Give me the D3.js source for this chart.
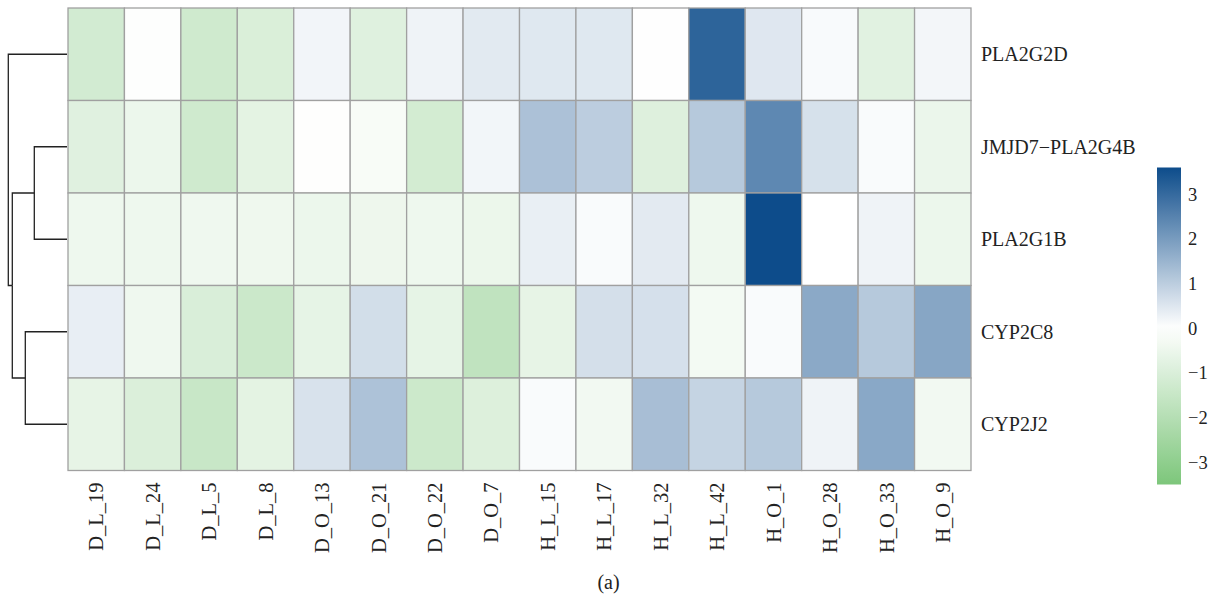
<!DOCTYPE html>
<html>
<head>
<meta charset="utf-8">
<script src="https://cdn.jsdelivr.net/npm/d3@7"></script>
<style>
  html, body { margin: 0; padding: 0; background: #fff; }
  svg { display: block; }
  text { font-family: "Liberation Serif", "DejaVu Serif", serif; fill: #222; }
</style>
</head>
<body>
<svg id="chart" width="1220" height="594"></svg>
<script>
// ---------- data ----------
const columns = ["D_L_19","D_L_24","D_L_5","D_L_8","D_O_13","D_O_21","D_O_22","D_O_7",
                 "H_L_15","H_L_17","H_L_32","H_L_42","H_O_1","H_O_28","H_O_33","H_O_9"];
const rows = ["PLA2G2D","JMJD7\u2212PLA2G4B","PLA2G1B","CYP2C8","CYP2J2"];

const valsPLA2G2D   = [-1.2,-0.05,-1.3,-1.0, 0.2,-0.86, 0.24, 0.43, 0.47, 0.47, 0.02, 3.12, 0.48, 0.1,-0.8, 0.18];
const valsJMJD7     = [-0.83,-0.51,-1.3,-0.73,-0.04,-0.2,-1.18, 0.19, 1.24, 1.0,-0.9, 1.08, 2.39, 0.61, 0.09,-0.54];
const valsPLA2G1B   = [-0.45,-0.45,-0.43,-0.44,-0.5,-0.47,-0.45,-0.52, 0.33, 0.09, 0.42,-0.46, 3.6, 0.0, 0.24,-0.5];
const valsCYP2C8    = [ 0.34,-0.43,-1.02,-1.4,-0.67, 0.67,-0.67,-1.7,-0.65, 0.64, 0.63,-0.32, 0.09, 1.73, 1.08, 1.79];
const valsCYP2J2    = [-0.65,-0.97,-1.48,-0.73, 0.58, 1.22,-1.37,-0.92, 0.09,-0.35, 1.3, 0.87, 1.08, 0.24, 1.75,-0.35];
const matrix = [valsPLA2G2D, valsJMJD7, valsPLA2G1B, valsCYP2C8, valsCYP2J2];

// row dendrogram: merge heights
const dendro = { h: 5.87, children: [
  { leaf: 0 },
  { h: 5.47, children: [
      { h: 3.27, children: [ { leaf: 1 }, { leaf: 2 } ] },
      { h: 4.17, children: [ { leaf: 3 }, { leaf: 4 } ] }
  ] }
] };

const colorTicks = [-3,-2,-1,0,1,2,3];
const colorDomain = [-3.5, 0, 3.6];
const colorRange = ["#7dc67b", "#ffffff", "#0d4c8b"];
const caption = "(a)";

// ---------- layout ----------
const svg = d3.select("#chart");
const hm = { left: 68, right: 971, top: 8, bottom: 470.5 };

const x = d3.scaleBand().domain(columns).range([hm.left, hm.right]);
const y = d3.scaleBand().domain(d3.range(rows.length)).range([hm.top, hm.bottom]);
const color = d3.scaleLinear().domain(colorDomain).range(colorRange).interpolate(d3.interpolateRgb).clamp(true);

// cells
const cells = [];
matrix.forEach((r, i) => r.forEach((v, j) => cells.push({ i, j, v })));
svg.append("g").selectAll("rect").data(cells).join("rect")
  .attr("x", d => x(columns[d.j]))
  .attr("y", d => y(d.i))
  .attr("width", x.bandwidth())
  .attr("height", y.bandwidth())
  .attr("fill", d => color(d.v))
  .attr("stroke", "#a0a0a0")
  .attr("stroke-width", 1.3);

// row labels
svg.append("g").selectAll("text").data(rows).join("text")
  .attr("x", hm.right + 10)
  .attr("y", (d, i) => y(i) + y.bandwidth() / 2)
  .attr("dy", "0.35em")
  .attr("font-size", 20)
  .text(d => d);

// column labels
svg.append("g").selectAll("text").data(columns).join("text")
  .attr("transform", d => `translate(${x(d) + x.bandwidth() / 2},${hm.bottom + 12}) rotate(-90)`)
  .attr("text-anchor", "end")
  .attr("dy", "0.35em")
  .attr("font-size", 20.5)
  .text(d => d);

// dendrogram
const hx = d3.scaleLinear().domain([0, dendro.h]).range([hm.left - 1, 8.3]);
const dg = svg.append("g").attr("fill", "none").attr("stroke", "#222").attr("stroke-width", 1.3);
function layout(node) {
  if (node.leaf !== undefined) {
    node.px = hx(0);
    node.py = y(node.leaf) + y.bandwidth() / 2;
    return node;
  }
  node.children.forEach(layout);
  node.px = hx(node.h);
  node.py = d3.mean(node.children, c => c.py);
  node.children.forEach(c => {
    dg.append("path").attr("d", `M${node.px},${node.py}V${c.py}H${c.px}`);
  });
  return node;
}
layout(dendro);

// color legend
const lg = { x: 1157, w: 24 };
const ly = d3.scaleLinear().domain([colorDomain[0], colorDomain[2]]).range([484.5, 167.5]);
const defs = svg.append("defs");
const grad = defs.append("linearGradient").attr("id", "lgrad")
  .attr("x1", 0).attr("y1", 1).attr("x2", 0).attr("y2", 0);
d3.range(0, 1.0001, 0.05).forEach(t => {
  const v = colorDomain[0] + t * (colorDomain[2] - colorDomain[0]);
  grad.append("stop").attr("offset", t).attr("stop-color", color(v));
});
svg.append("rect")
  .attr("x", lg.x).attr("y", ly(colorDomain[2]))
  .attr("width", lg.w).attr("height", ly(colorDomain[0]) - ly(colorDomain[2]))
  .attr("fill", "url(#lgrad)");
svg.append("g").selectAll("text").data(colorTicks).join("text")
  .attr("x", lg.x + lg.w + 7)
  .attr("y", d => ly(d))
  .attr("dy", "0.35em")
  .attr("font-size", 18.5)
  .text(d => d < 0 ? "\u2212" + Math.abs(d) : String(d));

// caption
svg.append("text")
  .attr("x", 608.5).attr("y", 582)
  .attr("dy", "0.35em")
  .attr("text-anchor", "middle")
  .attr("font-size", 20)
  .text(caption);
</script>
</body>
</html>
